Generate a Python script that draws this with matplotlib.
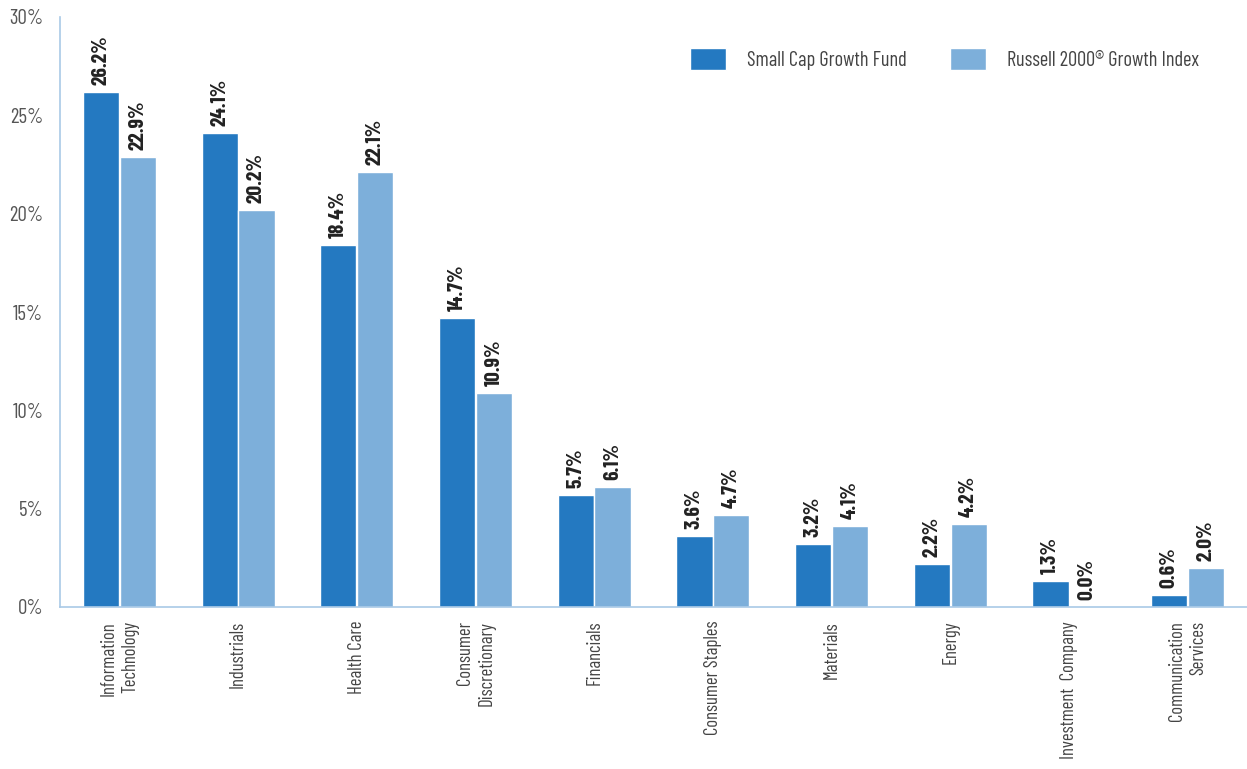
import matplotlib
matplotlib.use("Agg")
import matplotlib.pyplot as plt
import numpy as np
import os
from matplotlib import font_manager
from matplotlib.font_manager import FontProperties

categories = ["Information\nTechnology", "Industrials", "Health Care", "Consumer\nDiscretionary",
              "Financials", "Consumer Staples", "Materials", "Energy", "Investment  Company",
              "Communication\nServices"]
fund = [26.2, 24.1, 18.4, 14.7, 5.7, 3.6, 3.2, 2.2, 1.3, 0.6]
index = [22.9, 20.2, 22.1, 10.9, 6.1, 4.7, 4.1, 4.2, 0.0, 2.0]
series_names = ["Small Cap Growth Fund", "Russell 2000\u00ae Growth Index"]
yticks = [0, 5, 10, 15, 20, 25, 30]

# locate a condensed font
files = {os.path.basename(f.fname): f.fname for f in font_manager.fontManager.ttflist}

def find(options):
    for o in options:
        if o in files:
            return files[o]
    return None

reg_path = find(["BarlowCondensed-Regular.ttf", "RobotoCondensed-Regular.ttf",
                 "ArchivoNarrow-Regular.ttf", "AsapCondensed-Regular.ttf",
                 "DejaVuSansCondensed.ttf"])
bold_path = find(["BarlowCondensed-Bold.ttf", "RobotoCondensed-Bold.ttf",
                  "ArchivoNarrow-Bold.ttf", "AsapCondensed-Bold.ttf",
                  "DejaVuSansCondensed-Bold.ttf"])

def fp_reg(s):
    return FontProperties(fname=reg_path, size=s) if reg_path else FontProperties(family="DejaVu Sans", size=s * 0.8)

def fp_bold(s):
    return FontProperties(fname=bold_path, size=s) if bold_path else FontProperties(family="DejaVu Sans", weight="bold", size=s * 0.8)

dark = "#2479C1"
light = "#7DAFDA"
spine_c = "#A9C9E6"
txt = "#444444"

fig = plt.figure(figsize=(12.47, 7.69), dpi=100)
ax = fig.add_axes([60/1247, 1-607/769, 1-60/1247, 590/769])

x = np.arange(len(categories))
w = 0.305
off = 0.155
b1 = ax.bar(x - off, fund, w, color=dark, edgecolor="white", linewidth=1, label=series_names[0])
b2 = ax.bar(x + off, index, w, color=light, edgecolor="white", linewidth=1, label=series_names[1])

for bars, vals in ((b1, fund), (b2, index)):
    for r, v in zip(bars, vals):
        ax.annotate(f"{v:.1f}%", (r.get_x() + r.get_width()/2, v), xytext=(0, 5),
                    textcoords="offset points", rotation=90, ha="center", va="bottom",
                    fontproperties=fp_bold(15.5), color="#222222")

ax.set_xlim(-0.5, len(categories) - 0.5)
ax.set_ylim(0, 30)
ax.set_yticks(yticks)
ax.set_yticklabels([f"{t}%" for t in yticks], fontproperties=fp_reg(15), color="#555555")
ax.set_xticks(x)
ax.set_xticklabels(categories, rotation=90, ha="center", va="top", multialignment="right",
                   fontproperties=fp_reg(13.5), color=txt, linespacing=1.25)
ax.tick_params(axis="both", length=0)
ax.tick_params(axis="x", pad=10)
ax.tick_params(axis="y", pad=12)
for s in ("top", "right"):
    ax.spines[s].set_visible(False)
for s in ("left", "bottom"):
    ax.spines[s].set_color(spine_c)
    ax.spines[s].set_linewidth(1.2)

leg = ax.legend(loc="upper right", bbox_to_anchor=(0.975, 0.978), ncol=2, frameon=False,
                prop=fp_reg(14.7), handlelength=1.75, handleheight=1.25, columnspacing=2.1,
                handletextpad=1.05, labelcolor="#444444")

fig.savefig("out.png", dpi=100)
